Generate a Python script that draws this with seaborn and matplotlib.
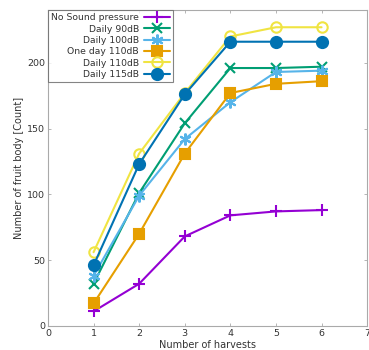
import numpy as np
import pandas as pd
import matplotlib
matplotlib.use("Agg")
import matplotlib.pyplot as plt
import seaborn as sns

harvests = [1, 2, 3, 4, 5, 6]
labels = ["No Sound pressure", "Daily 90dB", "Daily 100dB",
          "One day 110dB", "Daily 110dB", "Daily 115dB"]
no_sound = [11, 32, 68, 84, 87, 88]
daily_90 = [32, 101, 154, 196, 196, 197]
daily_100 = [38, 99, 142, 170, 193, 194]
oneday_110 = [17, 70, 131, 177, 184, 186]
daily_110 = [56, 131, 177, 220, 227, 227]
daily_115 = [46, 123, 176, 216, 216, 216]

series = [no_sound, daily_90, daily_100, oneday_110, daily_110, daily_115]
colors = ["#9400d3", "#009e73", "#56b4e9", "#e69f00", "#f0e442", "#0072b2"]
markers = ["+", "x", (6, 2, 0), "s", "o", "o"]
msizes = [9, 7.5, 8.5, 7, 7.5, 8]
filled = [True, True, True, True, False, True]

sns.set_style("ticks")
plt.rcParams["font.family"] = ["DejaVu Sans"]

fig = plt.figure(figsize=(3.69, 3.5), dpi=100)
ax = fig.add_axes([0.130, 0.069, 0.865, 0.902])

for lab, vals, c, m, ms, f in zip(labels, series, colors, markers, msizes, filled):
    df = pd.DataFrame({"harvest": harvests, "count": vals})
    sns.lineplot(data=df, x="harvest", y="count", ax=ax, color=c, marker=m,
                 markersize=ms, linewidth=1.5, markeredgewidth=1.5,
                 markerfacecolor=c if f else "none", markeredgecolor=c,
                 label=lab)

ax.set_xlim(0, 7)
ax.set_ylim(0, 240)
ax.set_xticks(range(0, 8))
ax.set_yticks([0, 50, 100, 150, 200])
ax.set_xlabel("Number of harvests", fontsize=7, color="#333333", labelpad=2)
ax.set_ylabel("Number of fruit body [Count]", fontsize=7, color="#333333", labelpad=2)
ax.tick_params(direction="in", length=2.5, width=0.6, labelsize=6.8,
               color="#aaaaaa", labelcolor="#333333", top=True, right=True, pad=2)
for s in ax.spines.values():
    s.set_color("#aaaaaa")
    s.set_linewidth(0.8)

leg = ax.legend(loc="upper left", markerfirst=False, fontsize=6.7,
                frameon=True, fancybox=False, borderaxespad=0.0,
                handlelength=2.8, labelspacing=0.25, borderpad=0.35,
                handletextpad=0.5)
leg.get_frame().set_edgecolor("#666666")
leg.get_frame().set_linewidth(0.8)
for t in leg.get_texts():
    t.set_color("#333333")

fig.savefig("out.png", dpi=100)
